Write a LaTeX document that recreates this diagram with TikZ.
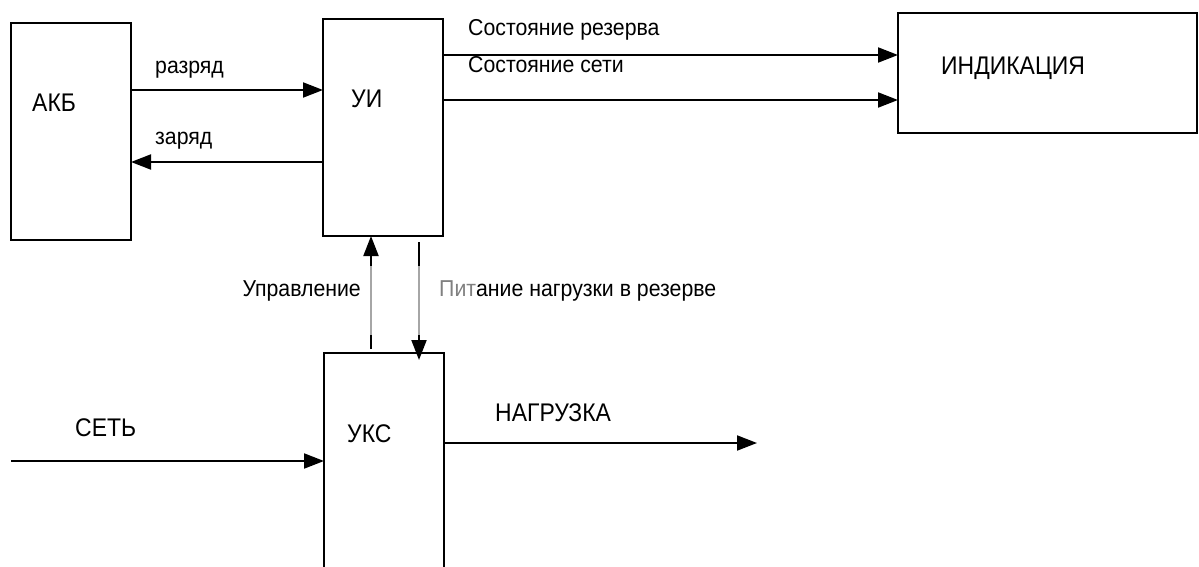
\documentclass[tikz,border=0pt]{standalone}
\usepackage{fontspec}
\setmainfont{Liberation Sans}
\newfontfamily\narrowfont[FakeStretch=0.9]{Liberation Sans}
\newfontfamily\lblfontfam[FakeStretch=0.925]{Liberation Sans}
\usetikzlibrary{arrows.meta}
\begin{document}
\begin{tikzpicture}[x=1pt,y=-1pt,
  blk/.style={draw,line width=1.2pt,minimum width=120pt,inner sep=0pt,outer sep=0pt},
  arr/.style={line width=2pt,-{Triangle[length=20pt,width=15pt]}},
  lbl/.style={anchor=base west,inner sep=0pt,font=\lblfontfam\fontsize{23}{27}\selectfont},
  caplbl/.style={anchor=base west,inner sep=0pt,font=\narrowfont\fontsize{25.5}{30}\selectfont}]
\useasboundingbox (0,0) rectangle (1199,567);
\begin{scope}
\clip (0,0) rectangle (1199,567);
% boxes
\node[blk,minimum height=217pt] (akb) at (71,131.5) {};
\node[blk,minimum height=217pt] (ui) at (383,127.5) {};
\node[blk,minimum width=299pt,minimum height=120pt] (ind) at (1047.5,73) {};
\node[blk,minimum height=226pt] (uks) at (384,466) {};
\end{scope}
% box texts
\node[caplbl] (takb) at (32,112) {АКБ};
\node[caplbl] (tui) at (351,108) {УИ};
\node[caplbl] (tind) at (941,75) {ИНДИКАЦИЯ};
\node[caplbl] (tuks) at (347,442) {УКС};
% free ends
\coordinate (upr) at (371,349);
\coordinate (pit) at (419,242);
\coordinate (set) at (11,461);
\coordinate (nag) at (757,443);
% connectors
\draw[arr] (akb.east |- 0,90) -- (ui.west |- 0,90);
\draw[arr] (ui.west |- 0,162) -- (akb.east |- 0,162);
\draw[arr] (ui.east |- 0,55) -- (ind.west |- 0,55);
\draw[arr] (ui.east |- 0,100) -- (ind.west |- 0,100);
\draw[arr] (upr) -- (ui.south -| upr);
\draw[arr,shorten >=-7pt] (pit) -- (uks.north -| pit);
\draw[line width=2pt,gray!70] (371,266) -- (371,335);
\draw[line width=2pt,gray!70] (419,266) -- (419,335);
\draw[arr] (set) -- (uks.west |- set);
\draw[arr] (uks.east |- nag) -- (nag);
% labels
\node[lbl] (lr) at (155,74) {разряд};
\node[lbl] (lz) at (155,145) {заряд};
\node[lbl] (lsr) at (468,36) {Состояние резерва};
\node[lbl] (lss) at (468,73) {Состояние сети};
\node[lbl,anchor=base east] (lu) at (361,296) {Управление};
\node[lbl] (lp) at (439,296) {\textcolor{gray}{Пит}ание нагрузки в резерве};
\node[caplbl] (ls) at (75,436) {СЕТЬ};
\node[caplbl] (ln) at (495,421) {НАГРУЗКА};
\end{tikzpicture}
\end{document}
